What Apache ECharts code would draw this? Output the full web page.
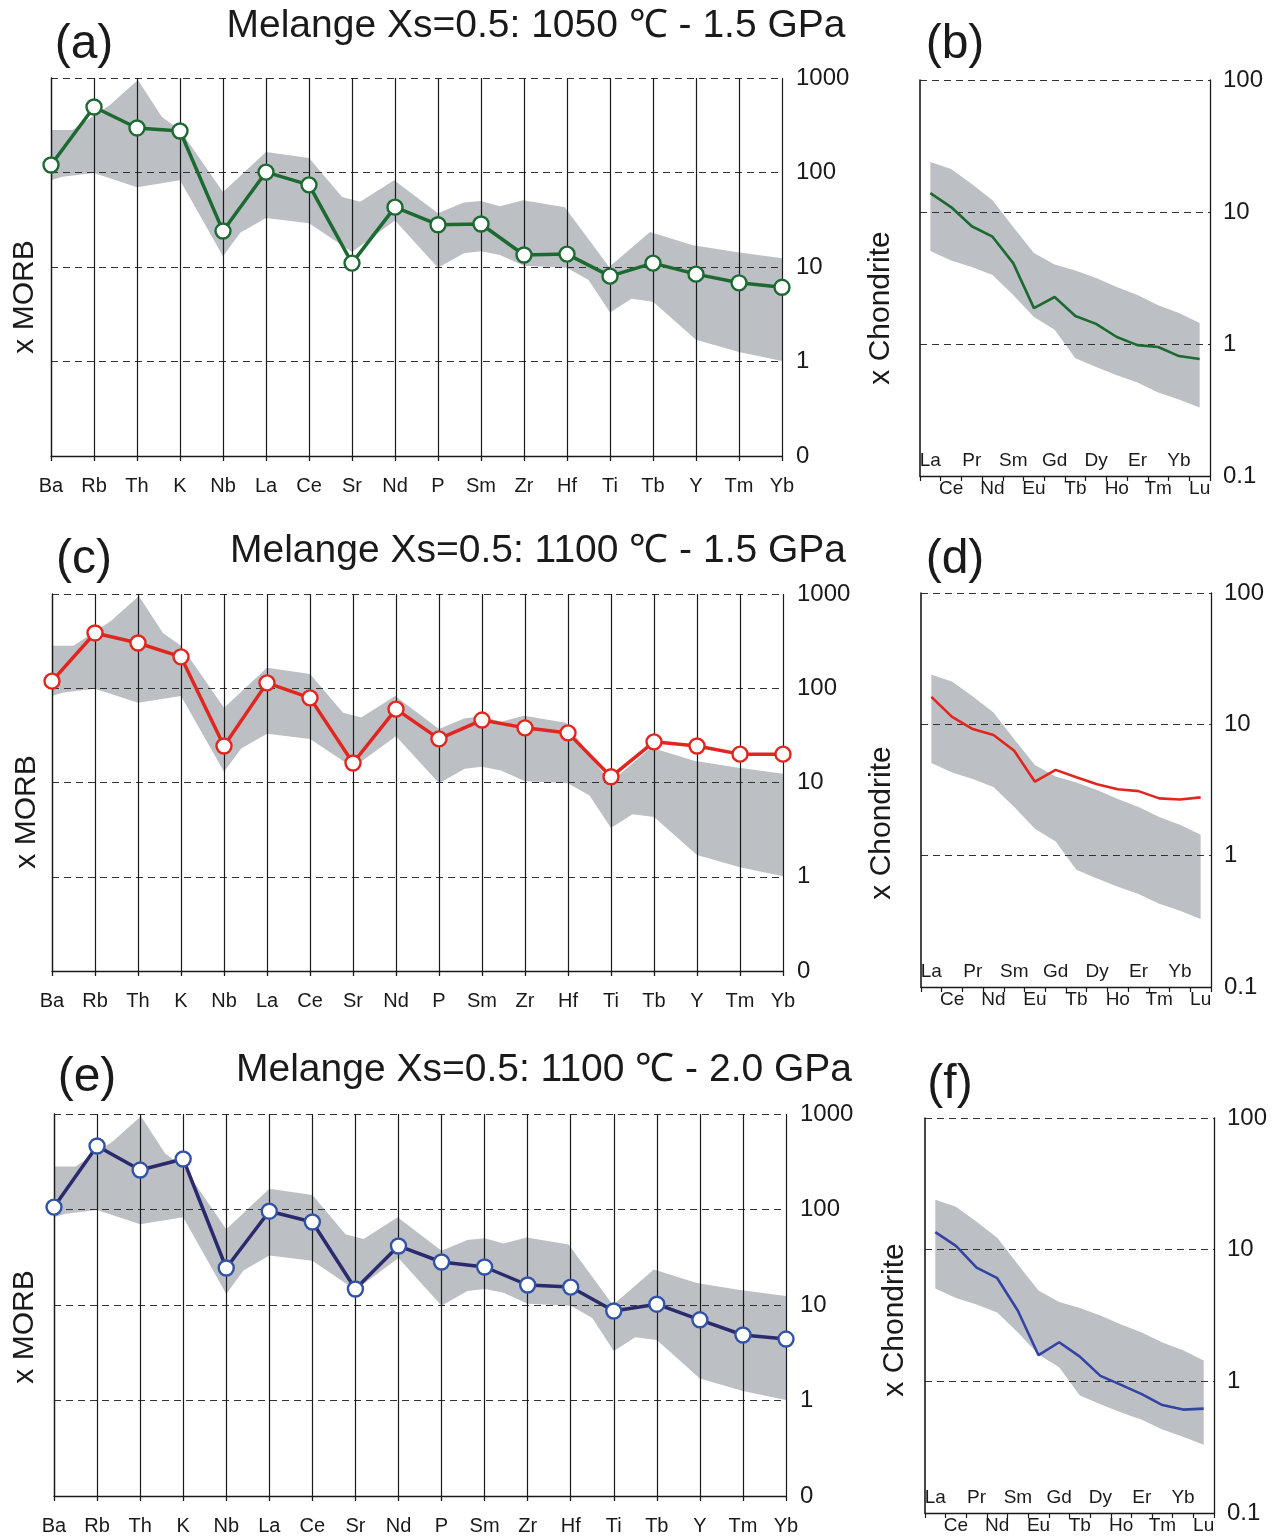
<!DOCTYPE html>
<html>
<head>
<meta charset="utf-8">
<script src="https://cdn.jsdelivr.net/npm/echarts@6/dist/echarts.min.js"></script>
<style>
  html, body { margin: 0; padding: 0; background: #fff; }
  #chart { width: 1277px; height: 1539px; }
</style>
</head>
<body>
<div id="chart"></div>
<script>
// Trace elements, MORB-normalised (spider diagrams a, c, e)
const spiderElements = ['Ba','Rb','Th','K','Nb','La','Ce','Sr','Nd','P','Sm','Zr','Hf','Ti','Tb','Y','Tm','Yb'];
// Rare earth elements, chondrite-normalised (b, d, f)
const reeElements = ['La','Ce','Pr','Nd','Sm','Eu','Gd','Tb','Dy','Ho','Er','Tm','Yb','Lu'];

// Melt compositions, x MORB
const morb1050_15 = [120, 493, 296, 275, 24, 101, 74, 11, 43, 28, 28.5, 13.4, 13.7, 8.0, 11, 8.4, 6.8, 6.1];
const morb1100_15 = [119, 386, 302, 215, 24.4, 114, 79, 16.1, 60, 29, 46, 38, 33.6, 11.5, 27, 24.4, 20, 20];
const morb1100_20 = [106, 462, 259, 338, 24.4, 96, 74, 14.7, 41.5, 28.2, 25, 16.2, 15.4, 8.65, 10.2, 7.0, 4.85, 4.4];

// Melt compositions, x Chondrite
const chond1050_15 = [13.9, 10.9, 7.8, 6.5, 4.1, 1.87, 2.27, 1.63, 1.42, 1.13, 0.98, 0.95, 0.81, 0.77];
const chond1100_15 = [16.2, 11.4, 9.2, 8.3, 6.3, 3.66, 4.5, 3.95, 3.5, 3.2, 3.1, 2.73, 2.68, 2.78];
const chond1100_20 = [13.6, 10.7, 7.3, 6.07, 3.44, 1.58, 1.98, 1.54, 1.10, 0.94, 0.80, 0.66, 0.61, 0.62];

// Natural arc field envelope, x MORB: [element position, value]
const morbFieldUpper = [[0,282],[0.5,282],[1.37,518],[2.02,950],[2.58,386],[3,282],[4,62],[5,165],[6,142],[6.77,55],[7.19,49],[7.98,83],[9,37],[9.6,48],[10,50],[10.44,44],[10.98,51],[11.95,43],[12.98,10],[13.93,23.5],[14.93,17],[15.93,14.4],[17,12.4]];
const morbFieldLower = [[0,83],[0.26,90],[1,99],[2,70],[3,83],[4,13],[4.4,23],[5,33],[6,29],[7,14.4],[8,31],[9,9.8],[9.6,14],[10,14.7],[10.44,13.4],[11,10.3],[12,9.8],[12.5,7.3],[13,3.3],[13.5,4.6],[14,4.3],[15,1.7],[16,1.26],[17,1.01]];

// Natural arc field envelope, x Chondrite (one value per REE)
const chondFieldUpper = [23.9, 21.2, 16.3, 12.3, 7.7, 4.9, 4.0, 3.6, 3.16, 2.7, 2.35, 1.97, 1.72, 1.44];
const chondFieldLower = [5.07, 4.3, 3.83, 3.33, 2.35, 1.6, 1.28, 0.78, 0.67, 0.58, 0.51, 0.43, 0.38, 0.33];

// Axis tick labels
const morbTickLabels = ['0', '1', '10', '100', '1000'];      // 0.1 … 1000
const chondTickLabels = ['0.1', '1', '10', '100'];           // 0.1 … 100

const panelTitles = [
  'Melange Xs=0.5: 1050 \u2103 - 1.5 GPa',
  'Melange Xs=0.5: 1100 \u2103 - 1.5 GPa',
  'Melange Xs=0.5: 1100 \u2103 - 2.0 GPa'
];

const FONT = '"Liberation Sans", Arial, Helvetica, sans-serif';
const INK = '#1a1a1a';
const FIELD = '#bcbfc4';

const spiderRows = [
  { grid: { left: 51, top: 78, width: 731, height: 378 }, data: morb1050_15, line: '#1c6a31', mark: '#1c6a31' },
  { grid: { left: 52, top: 594, width: 731, height: 377 }, data: morb1100_15, line: '#e2261f', mark: '#e2261f' },
  { grid: { left: 54, top: 1114, width: 732, height: 382 }, data: morb1100_20, line: '#2b2a6c', mark: '#3152a6' }
];
const reeRows = [
  { grid: { left: 920, top: 80, width: 290, height: 396 }, data: chond1050_15, line: '#1c6a31' },
  { grid: { left: 921, top: 593, width: 290, height: 394 }, data: chond1100_15, line: '#e2261f' },
  { grid: { left: 925, top: 1118, width: 289, height: 395 }, data: chond1100_20, line: '#3444a2' }
];

const grids = [], xAxes = [], yAxes = [], series = [];

function logLabel(labels, offset) {
  return function (v) {
    const k = Math.round(Math.log10(v)) + offset;
    return labels[k] !== undefined ? labels[k] : '';
  };
}

function fieldPolygon(upper, lower) {
  return function (params, api) {
    const pts = upper.map(p => api.coord(p))
      .concat(lower.slice().reverse().map(p => api.coord(p)));
    return { type: 'polygon', shape: { points: pts }, style: { fill: FIELD }, silent: true };
  };
}

// Spider diagrams
spiderRows.forEach((row, i) => {
  grids.push(row.grid);
  xAxes.push({
    type: 'value', gridIndex: i, min: 0, max: 17, interval: 1, position: 'bottom', z: 1,
    axisLine: { show: true, lineStyle: { color: INK, width: 1.3 } },
    axisTick: { show: true, length: 5, lineStyle: { color: INK, width: 1.3 } },
    axisLabel: { fontSize: 20, fontFamily: FONT, color: INK, margin: 20, showMinLabel: true, showMaxLabel: true,
      formatter: v => spiderElements[Math.round(v)] || '' },
    splitLine: { show: true, lineStyle: { color: INK, width: 1.2 } }
  });
  yAxes.push({
    type: 'log', logBase: 10, gridIndex: i, min: 0.1, max: 1000, position: 'right', z: 1,
    axisLine: { show: true, lineStyle: { color: INK, width: 1.3 } },
    axisTick: { show: false },
    axisLabel: { fontSize: 24, fontFamily: FONT, color: INK, margin: 14, formatter: logLabel(morbTickLabels, 1) },
    splitLine: { show: true, lineStyle: { color: '#333', width: 1.2, type: [7, 5] } }
  });
  series.push({
    type: 'custom', xAxisIndex: i, yAxisIndex: i, z: 0, silent: true,
    data: [[0, 1]], renderItem: fieldPolygon(morbFieldUpper, morbFieldLower)
  });
  series.push({
    type: 'line', xAxisIndex: i, yAxisIndex: i, z: 3,
    data: row.data.map((v, k) => [k, v]),
    symbol: 'circle', symbolSize: 15, showAllSymbol: true,
    lineStyle: { color: row.line, width: 3.5 },
    itemStyle: { color: '#ffffff', borderColor: row.mark, borderWidth: 2.4 }
  });
});

// REE diagrams
reeRows.forEach((row, j) => {
  const g = grids.length;
  grids.push(row.grid);
  const xOuter = xAxes.length;
  xAxes.push({
    type: 'category', gridIndex: g, data: reeElements, boundaryGap: true, position: 'bottom', z: 1,
    axisLine: { show: true, lineStyle: { color: INK, width: 1.3 } },
    axisTick: { show: true, length: 5, interval: 0, lineStyle: { color: INK, width: 1.2 } },
    axisLabel: { interval: 0, fontSize: 19, fontFamily: FONT, color: INK, margin: 3,
      formatter: (v, k) => (k % 2 === 1 ? v : '') },
    splitLine: { show: false }
  });
  xAxes.push({
    type: 'category', gridIndex: g, data: reeElements, boundaryGap: true, position: 'bottom', z: 1,
    axisLine: { show: false }, axisTick: { show: false },
    axisLabel: { inside: true, interval: 0, fontSize: 19, fontFamily: FONT, color: INK, margin: 6,
      formatter: (v, k) => (k % 2 === 0 ? v : '') },
    splitLine: { show: false }
  });
  const yRight = yAxes.length;
  yAxes.push({
    type: 'log', logBase: 10, gridIndex: g, min: 0.1, max: 100, position: 'right', z: 1,
    axisLine: { show: true, lineStyle: { color: INK, width: 1.3 } },
    axisTick: { show: false },
    axisLabel: { fontSize: 24, fontFamily: FONT, color: INK, margin: 13, formatter: logLabel(chondTickLabels, 1) },
    splitLine: { show: true, lineStyle: { color: '#333', width: 1.2, type: [7, 5] } }
  });
  yAxes.push({
    type: 'log', logBase: 10, gridIndex: g, min: 0.1, max: 100, position: 'left', z: 1,
    axisLine: { show: true, lineStyle: { color: INK, width: 1.6 } },
    axisTick: { show: false }, axisLabel: { show: false }, splitLine: { show: false }
  });
  series.push({
    type: 'custom', xAxisIndex: xOuter, yAxisIndex: yRight, z: 0, silent: true,
    data: [[0, 1]],
    renderItem: fieldPolygon(chondFieldUpper.map((v, k) => [k, v]), chondFieldLower.map((v, k) => [k, v]))
  });
  series.push({
    type: 'line', xAxisIndex: xOuter, yAxisIndex: yRight, z: 3,
    data: row.data, symbol: 'none',
    lineStyle: { color: row.line, width: 2.6 }
  });
});

// Panel letters, headings and axis names
function txt(text, x, y, size, extra) {
  return Object.assign({
    type: 'text', x: x, y: y, z: 10,
    style: { text: text, font: size + 'px ' + FONT, fill: INK, textAlign: 'center', textVerticalAlign: 'middle' }
  }, extra || {});
}
function vtxt(text, x, y, size) {
  return txt(text, x, y, size, { rotation: Math.PI / 2 });
}
const graphics = [
  txt('(a)', 84, 45, 48), txt('(b)', 955, 45, 48),
  txt('(c)', 84, 560, 48), txt('(d)', 955, 560, 48),
  txt('(e)', 87, 1078, 48), txt('(f)', 950, 1085, 48),
  txt(panelTitles[0], 536, 26, 39), txt(panelTitles[1], 538, 551, 39), txt(panelTitles[2], 544, 1070, 39),
  vtxt('x MORB', 25, 297, 30), vtxt('x MORB', 27, 812, 30), vtxt('x MORB', 25, 1327, 30),
  vtxt('x Chondrite', 881, 308, 30), vtxt('x Chondrite', 882, 823, 30), vtxt('x Chondrite', 895, 1320, 30)
];

const chart = echarts.init(document.getElementById('chart'), null, { renderer: 'canvas' });
chart.setOption({
  backgroundColor: '#ffffff',
  animation: false,
  grid: grids,
  xAxis: xAxes,
  yAxis: yAxes,
  series: series,
  graphic: graphics
});
</script>
</body>
</html>
